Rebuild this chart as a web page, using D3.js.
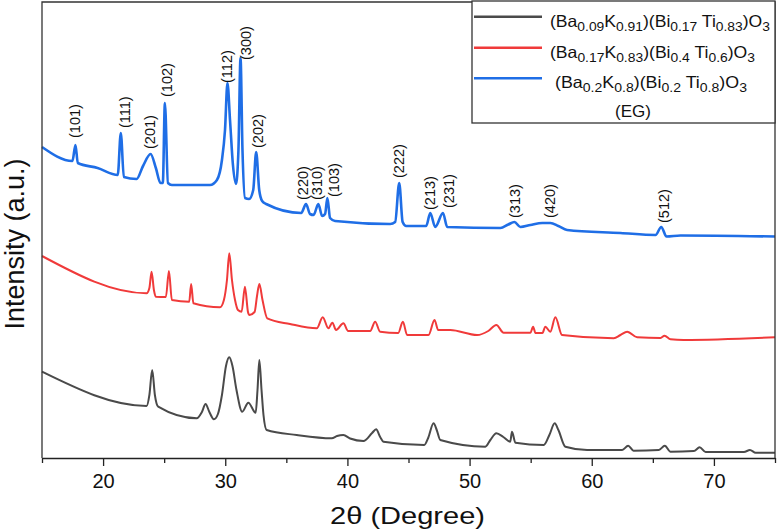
<!DOCTYPE html>
<html>
<head>
<meta charset="utf-8">
<script src="https://cdn.jsdelivr.net/npm/d3@7"></script>
<style>
    body { margin: 0; background: #fff; }
    svg { display: block; font-family: "Liberation Sans", Arial, sans-serif; }
</style>
</head>
<body>
<div id="container"></div>
<script>
// black curve: (Ba0.09K0.91)(Bi0.17Ti0.83)O3
const blackTheta = [15.0, 23.56, 23.79, 24.02, 24.24, 24.51, 27.66, 28.09, 28.39, 28.70, 29.07, 29.40, 29.73, 30.06, 30.33, 30.59, 30.92, 31.39, 31.89, 32.49, 32.64, 32.79, 32.97, 33.13, 33.39, 35.85, 38.72, 39.15, 39.67, 40.22, 41.31, 42.02, 42.35, 42.68, 42.95, 46.29, 46.61, 47.05, 47.31, 47.60, 51.29, 51.70, 52.19, 52.76, 53.33, 53.47, 53.75, 56.07, 56.53, 56.97, 57.27, 57.84, 59.62, 62.49, 62.98, 63.42, 65.49, 65.98, 66.45, 68.36, 68.83, 69.32, 72.46, 72.95, 73.42, 75];
const blackInt = [86.3, 52, 63, 88, 63, 51.3, 39.7, 46, 54, 46, 38.7, 44, 63, 92, 100.7, 92, 68, 46.3, 55.3, 45.3, 68, 98, 68, 43, 28, 23, 19.7, 22, 23, 19.5, 17, 25, 28.7, 21, 16.3, 13, 20, 34.7, 28, 18, 11.3, 18, 24.7, 21, 16.3, 26.3, 15.3, 13, 23, 34.7, 28, 11.3, 8, 8, 12.3, 7.3, 8, 12.3, 6.3, 7, 10.7, 6, 6, 8, 5.3, 5.3];

// red curve: (Ba0.17K0.83)(Bi0.4Ti0.6)O3
const redTheta = [15.0, 23.56, 23.79, 23.97, 24.16, 24.32, 25.14, 25.39, 25.63, 27.05, 27.21, 27.39, 29.57, 29.89, 30.14, 30.33, 30.55, 30.80, 31.04, 31.34, 31.61, 31.86, 31.98, 32.40, 32.60, 32.79, 33.05, 33.44, 35.30, 37.49, 37.98, 38.44, 38.77, 39.07, 39.67, 40.06, 41.86, 42.27, 42.68, 44.16, 44.54, 44.89, 46.64, 47.13, 47.43, 48.42, 50.61, 51.53, 52.19, 52.79, 54.98, 55.20, 55.39, 55.96, 56.20, 56.61, 57.02, 57.57, 61.80, 62.35, 62.90, 63.72, 65.63, 65.96, 66.45, 67.52, 75];
const redInt = [202, 164.7, 170, 186.3, 168, 161.3, 161, 187, 158, 156.3, 174, 154.7, 150.7, 158, 178, 204.7, 178, 158, 148, 146.3, 171.3, 146, 143, 146, 162, 174, 158, 139.7, 134, 129.7, 140.7, 129.7, 135.3, 128, 134.7, 127, 127, 136.3, 126.3, 125, 136.3, 123, 123, 138, 128, 128, 123, 127, 133, 125.3, 125.3, 131.3, 125, 125, 131.3, 126.3, 140.7, 123, 119.7, 123, 126.3, 120.7, 120, 122.3, 118.7, 118, 120.7];

// blue curve: (Ba0.2K0.8)(Bi0.2Ti0.8)O3 (EG)
const blueTheta = [15.0, 17.49, 17.74, 17.93, 19.55, 21.2, 21.45, 21.70, 22.74, 23.27, 23.89, 24.32, 24.70, 24.89, 25.06, 25.31, 25.63, 28.75, 29.32, 29.73, 29.98, 30.18, 30.39, 30.63, 30.88, 31.08, 31.25, 31.41, 31.62, 31.95, 32.29, 32.53, 32.78, 33.02, 33.35, 36.22, 36.61, 36.94, 37.23, 37.62, 37.93, 38.17, 38.36, 38.58, 38.99, 43.5, 43.91, 44.24, 44.52, 44.81, 46.45, 46.78, 47.19, 47.82, 48.17, 52.52, 53.17, 53.67, 54.16, 54.98, 55.96, 56.61, 57.27, 57.98, 62.35, 65.22, 65.69, 66.12, 67.27, 75];
const blueInt = [311, 297, 313, 295, 290, 283, 325, 281, 279, 292, 304, 290, 275, 275, 355, 275, 273, 273, 278, 298, 328, 375, 338, 293, 274, 308, 400, 308, 260, 259, 268, 306, 268, 257, 254, 245, 254, 244, 243, 254, 242, 244, 260, 240, 237, 234, 236, 275, 236, 232, 232, 245, 231, 245, 231, 230, 233.5, 236, 231, 233, 235, 235, 232, 228, 225, 223, 231, 221.5, 222.5, 221.5];

// (hkl) labels over the blue pattern
const peakHkl = ["(101)", "(111)", "(201)", "(102)", "(112)", "(300)", "(202)", "(220)", "(310)", "(103)", "(222)", "(213)", "(231)", "(313)", "(420)", "(512)"];
const peakTheta = [17.68, 21.78, 23.83, 25.22, 30.11, 31.67, 32.70, 36.39, 37.49, 38.93, 44.24, 46.78, 48.28, 53.74, 56.61, 65.90];
const peakLabelInt = [320, 330, 309, 361, 375, 398, 310, 258, 258, 261, 280, 248, 250, 240, 240, 235];

const majorTicks = [20, 30, 40, 50, 60, 70];
const minorTicks = [15, 25, 35, 45, 55, 65, 75];

const legendLabels = [
    "(Ba_0.09K_0.91)(Bi_0.17 Ti_0.83)O_3",
    "(Ba_0.17K_0.83)(Bi_0.4 Ti_0.6)O_3",
    "(Ba_0.2K_0.8)(Bi_0.2 Ti_0.8)O_3"
];
const colors = ["#4a4a4a", "#f03a3a", "#1f6ee6"];

function chart() {
    var width = 779, height = 531;
    var left = 42, right = 775, top = 2, bottom = 458;

    const x = d3.scaleLinear().domain([15, 75]).range([left, right]);
    const y = d3.scaleLinear().domain([0, 456]).range([bottom, top]);

    const svg = d3.select("div#container").append("svg")
        .attr("width", width)
        .attr("height", height)
        .attr("viewBox", [0, 0, width, height]);

    const series = [
        blackTheta.map((t, i) => [t, blackInt[i]]),
        redTheta.map((t, i) => [t, redInt[i]]),
        blueTheta.map((t, i) => [t, blueInt[i]])
    ];
    const widths = [2, 2, 2.6];

    const line = d3.line()
        .x(d => x(d[0]))
        .y(d => y(d[1]))
        .curve(d3.curveMonotoneX);

    svg.append("g")
        .selectAll("path")
        .data(series)
        .join("path")
        .attr("fill", "none")
        .attr("stroke", (d, i) => colors[i])
        .attr("stroke-width", (d, i) => widths[i])
        .attr("stroke-linejoin", "round")
        .attr("d", line);

    // frame
    svg.append("path")
        .attr("fill", "none")
        .attr("stroke", "#333")
        .attr("stroke-width", 1.3)
        .attr("d", `M${left},${bottom}V${top}H${right}V${bottom}`);

    const xAxis = svg.append("g")
        .attr("transform", `translate(0,${bottom})`)
        .call(d3.axisBottom(x).tickValues(majorTicks).tickSize(8).tickSizeOuter(0).tickPadding(8).tickFormat(d3.format("d")));
    xAxis.select(".domain").attr("stroke", "#222").attr("stroke-width", 1.5);
    xAxis.selectAll(".tick line").attr("stroke", "#222").attr("stroke-width", 1.3);
    xAxis.selectAll(".tick text")
        .attr("font-size", 20)
        .attr("font-family", "Liberation Sans, Arial, sans-serif")
        .attr("fill", "#111");

    const xMinor = svg.append("g")
        .attr("transform", `translate(0,${bottom})`)
        .call(d3.axisBottom(x).tickValues(minorTicks).tickSize(5).tickFormat(""));
    xMinor.select(".domain").remove();
    xMinor.selectAll(".tick line").attr("stroke", "#222").attr("stroke-width", 1.3);

    // peak labels
    svg.append("g")
        .selectAll("text")
        .data(peakHkl)
        .join("text")
        .attr("transform", (d, i) => `translate(${x(peakTheta[i])},${y(peakLabelInt[i])}) rotate(-90)`)
        .attr("dy", "0.35em")
        .attr("font-size", 14.5)
        .attr("fill", "#111")
        .text(d => d);

    // axis titles
    svg.append("text")
        .attr("x", 330)
        .attr("y", 524)
        .attr("font-size", 24)
        .attr("textLength", 155)
        .attr("lengthAdjust", "spacingAndGlyphs")
        .attr("fill", "#111")
        .text("2θ (Degree)");

    svg.append("text")
        .attr("transform", "translate(24,244) rotate(-90)")
        .attr("text-anchor", "middle")
        .attr("font-size", 27)
        .attr("fill", "#111")
        .text("Intensity (a.u.)");

    // legend
    const legend = svg.append("g");
    legend.append("rect")
        .attr("x", 472).attr("y", 1)
        .attr("width", 303).attr("height", 122)
        .attr("fill", "#fff")
        .attr("stroke", "#333")
        .attr("stroke-width", 1.3);

    const lineY = [16.7, 47.7, 78.3];
    const textY = [26.5, 58, 88];
    const textX = [550, 550, 555];
    const textW = [220, 205, 192];

    legendLabels.forEach((label, i) => {
        legend.append("line")
            .attr("x1", 474).attr("x2", 542)
            .attr("y1", lineY[i]).attr("y2", lineY[i])
            .attr("stroke", colors[i])
            .attr("stroke-width", 2.4);
        const t = legend.append("text")
            .attr("x", textX[i])
            .attr("y", textY[i])
            .attr("font-size", 16.5)
            .attr("textLength", textW[i])
            .attr("lengthAdjust", "spacingAndGlyphs")
            .attr("fill", "#111");
        addFormula(t, label);
    });

    legend.append("text")
        .attr("x", 633)
        .attr("y", 117)
        .attr("text-anchor", "middle")
        .attr("font-size", 17)
        .attr("fill", "#111")
        .text("(EG)");
}

// "_" marks a subscript that runs to the next letter, space or bracket
function addFormula(t, label) {
    var parts = label.split(/(_[0-9.]+)/).filter(s => s.length);
    var sub = false;
    parts.forEach(p => {
        if (p[0] == "_") {
            t.append("tspan").attr("dy", sub ? 0 : 4).attr("font-size", 13).text(p.slice(1));
            sub = true;
        } else {
            t.append("tspan").attr("dy", sub ? -4 : 0).text(p);
            sub = false;
        }
    });
}

chart();
</script>
</body>
</html>
